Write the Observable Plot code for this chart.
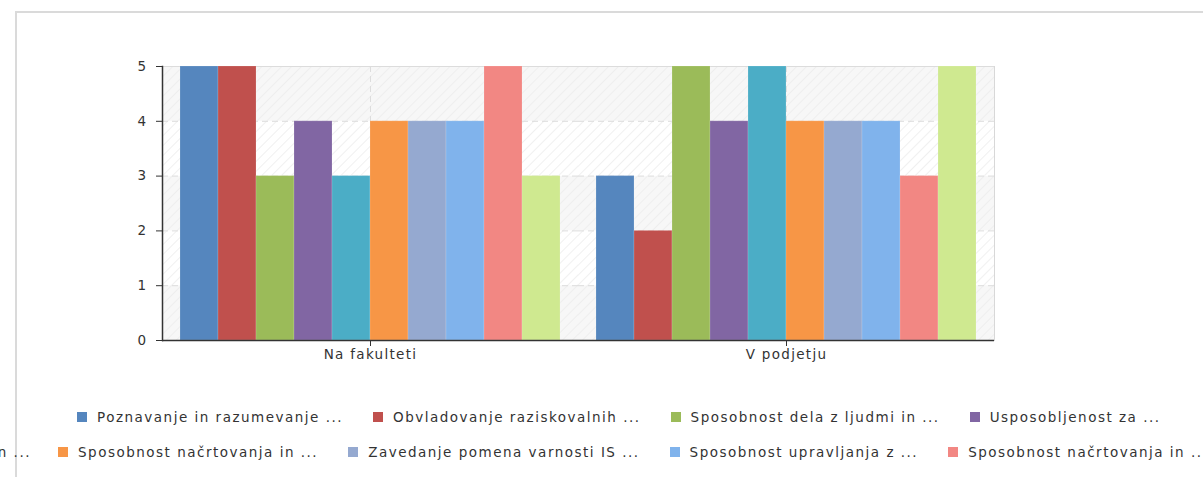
<!DOCTYPE html>
<html>
<head>
<meta charset="utf-8">
<script src="https://cdn.jsdelivr.net/npm/d3@7"></script>
<script src="https://cdn.jsdelivr.net/npm/@observablehq/plot@0.6"></script>
<style>
  html, body { margin: 0; padding: 0; background: #fff; overflow: hidden; }
  #wrap { position: relative; width: 1203px; height: 477px; font-family: "DejaVu Sans", Verdana, sans-serif; color: #333; }
  #box { position: absolute; left: 15px; top: 11px; right: -5px; bottom: -5px; border-left: 2px solid #dadada; border-top: 2px solid #dadada; }
  #chart { position: absolute; left: 0; top: 0; }
  .row { position: absolute; display: flex; white-space: nowrap; gap: 30px; font-size: 13.5px; letter-spacing: 1.5px; line-height: 16px; }
  .item { display: flex; align-items: center; gap: 10px; }
  .sw { width: 10px; height: 10px; display: inline-block; }
</style>
</head>
<body>
<div id="wrap">
  <div id="box"></div>
  <div id="chart"></div>
  <div class="row" id="row1" style="left:77px; top:409px;"></div>
  <div class="row" id="row2a" style="right:1172px; top:444px; justify-content:flex-end;"></div>
  <div class="row" id="row2b" style="left:58px; top:444px;"></div>
</div>
<script>
const categories = ["Na fakulteti", "V podjetju"];
const seriesNames = [
  "Poznavanje in razumevanje ...",
  "Obvladovanje raziskovalnih ...",
  "Sposobnost dela z ljudmi in ...",
  "Usposobljenost za ...",
  "Sposobnost razumevanja in ...",
  "Sposobnost načrtovanja in ...",
  "Zavedanje pomena varnosti IS ...",
  "Sposobnost upravljanja z ...",
  "Sposobnost načrtovanja in ... ",
  "Sposobnost vodenja ..."
];
const seriesColors = ["#5586be", "#c0504d", "#9bbb59", "#8166a3", "#4badc6", "#f79646", "#95a9d0", "#80b3ec", "#f28783", "#cfe990"];
const valuesNaFakulteti = [5, 5, 3, 4, 3, 4, 4, 4, 5, 3];
const valuesVPodjetju   = [3, 2, 5, 4, 5, 4, 4, 4, 3, 5];
const yTicks = [0, 1, 2, 3, 4, 5];
const gridTicks = [1, 2, 3, 4];
const bandStarts = [0, 1, 2, 3, 4];

const rows = [];
seriesNames.forEach((s, i) => {
  rows.push({cat: categories[0], series: s, value: valuesNaFakulteti[i]});
  rows.push({cat: categories[1], series: s, value: valuesVPodjetju[i]});
});

const chart = Plot.plot({
  width: 1203,
  height: 380,
  marginLeft: 161,
  marginRight: 209,
  marginTop: 66,
  marginBottom: 40,
  style: {fontFamily: "DejaVu Sans, Verdana, sans-serif", fontSize: "13.5px", letterSpacing: "1.3px", color: "#333", background: "transparent", overflow: "visible"},
  fx: {domain: categories, padding: 0, label: null},
  x: {domain: seriesNames, paddingInner: 0, paddingOuter: 0.4, axis: null},
  y: {domain: [0, 5], label: null},
  color: {domain: seriesNames, range: seriesColors},
  marks: [
    Plot.rectY(bandStarts, {y1: d => d, y2: d => d + 1, fill: d => (d % 2 === 0 ? "#f7f7f7" : "#ffffff")}),
    Plot.rectY(bandStarts, {y1: d => d, y2: d => d + 1, fill: "url(#hatch)"}),
    Plot.gridY(gridTicks, {stroke: "#dddddd", strokeOpacity: 1, strokeDasharray: "6,4"}),
    Plot.gridFx({stroke: "#dddddd", strokeOpacity: 1, strokeDasharray: "6,4"}),
    Plot.ruleY([5], {stroke: "#dcdcdc"}),
    Plot.frame({anchor: "right", facetAnchor: "right", stroke: "#d8d8d8"}),
    Plot.barY(rows, {fx: "cat", x: "series", y: "value", fill: "series", stroke: "#ffffff", strokeOpacity: 0.15, strokeWidth: 1, inset: 0}),
    Plot.ruleY([0], {stroke: "#333", strokeWidth: 1.5}),
    Plot.frame({anchor: "left", facetAnchor: "left", stroke: "#333", strokeWidth: 1.5}),
    Plot.axisY({ticks: yTicks, tickSize: 6, tickPadding: 9, tickFormat: d => String(d), label: null, stroke: "#333", fill: "#333"}),
    Plot.axisFx({anchor: "bottom", tickSize: 6, tickPadding: 3, label: null, stroke: "#333", fill: "#333"})
  ]
});

chart.insertAdjacentHTML("afterbegin",
  '<defs><pattern id="hatch" patternUnits="userSpaceOnUse" width="7" height="7" patternTransform="rotate(45)">' +
  '<line x1="0" y1="0" x2="0" y2="7" stroke="#ececec" stroke-width="1.6"/></pattern></defs>');

document.getElementById("chart").appendChild(chart);

function item(i) {
  const el = document.createElement("div");
  el.className = "item";
  const sw = document.createElement("span");
  sw.className = "sw";
  sw.style.background = seriesColors[i];
  const tx = document.createElement("span");
  tx.textContent = seriesNames[i].trim();
  el.appendChild(sw);
  el.appendChild(tx);
  return el;
}
const r1 = document.getElementById("row1");
[0, 1, 2, 3].forEach(i => r1.appendChild(item(i)));
const r2a = document.getElementById("row2a");
r2a.appendChild(item(4));
const r2b = document.getElementById("row2b");
[5, 6, 7, 8, 9].forEach(i => r2b.appendChild(item(i)));
</script>
</body>
</html>
